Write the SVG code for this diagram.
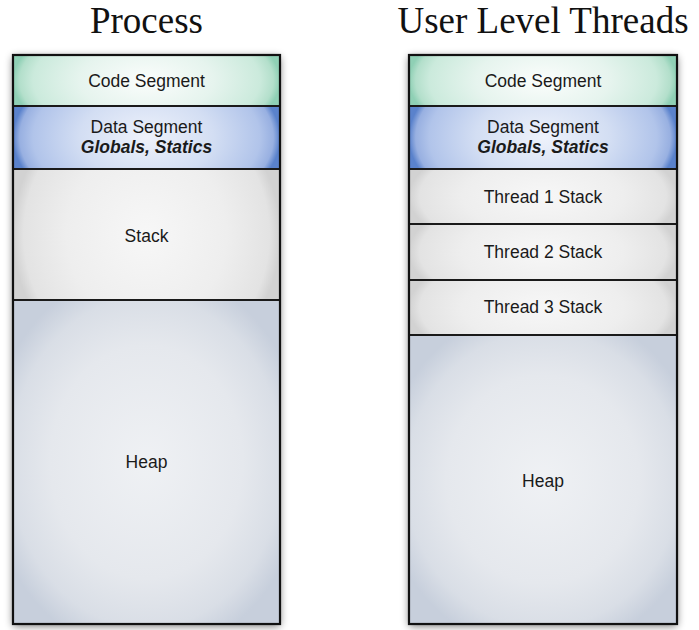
<svg xmlns="http://www.w3.org/2000/svg" width="699" height="630" viewBox="0 0 699 630">
  <style>
    .title { font-family: "Liberation Serif", "Times New Roman", serif; font-size: 37px; fill: #111; text-anchor: middle; }
    .lbl { font-family: "Liberation Sans", Arial, Helvetica, sans-serif; font-size: 17.5px; fill: #1a1a1a; text-anchor: middle; }
    .em { font-weight: bold; font-style: italic; }
    .frame { fill: none; stroke: #111; stroke-width: 2.2; }
    .sep { stroke: #1a1a1a; stroke-width: 1.8; }
    .code { fill: url(#gCode); }
    .data { fill: url(#gData); }
    .stack { fill: url(#gStack); }
    .heap { fill: url(#gHeap); }
  </style>
  <defs>
    <!-- segment fills: light centre fading to a tinted rim -->
    <radialGradient id="gCode" cx="0.5" cy="0.5" r="0.5" gradientTransform="translate(0.5 0.5) scale(1 2.6) translate(-0.5 -0.5)">
      <stop offset="0" stop-color="#fbfdfc"/>
      <stop offset="0.5" stop-color="#e6f4ee"/>
      <stop offset="0.85" stop-color="#cbeadc"/>
      <stop offset="0.95" stop-color="#b3dfcb"/>
      <stop offset="1" stop-color="#8fd0b5"/>
    </radialGradient>
    <radialGradient id="gData" cx="0.5" cy="0.5" r="0.5" gradientTransform="translate(0.5 0.5) scale(1 2.6) translate(-0.5 -0.5)">
      <stop offset="0" stop-color="#eef2fb"/>
      <stop offset="0.5" stop-color="#d3def3"/>
      <stop offset="0.85" stop-color="#b1c4ea"/>
      <stop offset="0.95" stop-color="#98b0e1"/>
      <stop offset="1" stop-color="#5a82cc"/>
    </radialGradient>
    <radialGradient id="gStack" cx="0.5" cy="0.5" r="0.5" gradientTransform="translate(0.5 0.5) scale(1 2.2) translate(-0.5 -0.5)">
      <stop offset="0" stop-color="#f7f7f7"/>
      <stop offset="0.6" stop-color="#eeeeee"/>
      <stop offset="0.92" stop-color="#e3e3e3"/>
      <stop offset="1" stop-color="#d2d2d2"/>
    </radialGradient>
    <radialGradient id="gHeap" cx="0.5" cy="0.5" r="0.6">
      <stop offset="0" stop-color="#eff1f4"/>
      <stop offset="0.6" stop-color="#e5e8ed"/>
      <stop offset="0.85" stop-color="#d9dee6"/>
      <stop offset="1" stop-color="#c7cfdc"/>
    </radialGradient>
    <filter id="shadow" x="-10%" y="-10%" width="120%" height="120%">
      <feGaussianBlur stdDeviation="4.5"/>
    </filter>
  </defs>

  <!-- Titles -->
  <text class="title" x="146.5" y="33">Process</text>
  <text class="title" x="543" y="33">User Level Threads</text>

  <!-- Process memory layout -->
  <g id="process">
    <rect x="13" y="57" width="267" height="569" fill="#000" opacity="0.55" filter="url(#shadow)"/>
    <g id="p-code">
      <rect class="code" x="13" y="55" width="267" height="51"/>
      <text class="lbl" x="146.5" y="87">Code Segment</text>
    </g>
    <g id="p-data">
      <rect class="data" x="13" y="106" width="267" height="63"/>
      <text class="lbl" x="146.5" y="133">Data Segment</text>
      <text class="lbl em" x="146.5" y="153">Globals, Statics</text>
    </g>
    <g id="p-stack">
      <rect class="stack" x="13" y="169" width="267" height="131"/>
      <text class="lbl" x="146.5" y="242">Stack</text>
    </g>
    <g id="p-heap">
      <rect class="heap" x="13" y="300" width="267" height="324"/>
      <text class="lbl" x="146.5" y="468">Heap</text>
    </g>
    <line class="sep" x1="13" y1="106" x2="280" y2="106"/>
    <line class="sep" x1="13" y1="169" x2="280" y2="169"/>
    <line class="sep" x1="13" y1="300" x2="280" y2="300" stroke-width="2.4"/>
    <rect class="frame" x="13" y="55" width="267" height="569"/>
  </g>

  <!-- User level threads memory layout -->
  <g id="threads">
    <rect x="409" y="57" width="268" height="569" fill="#000" opacity="0.55" filter="url(#shadow)"/>
    <g id="t-code">
      <rect class="code" x="409" y="55" width="268" height="51"/>
      <text class="lbl" x="543" y="87">Code Segment</text>
    </g>
    <g id="t-data">
      <rect class="data" x="409" y="106" width="268" height="63"/>
      <text class="lbl" x="543" y="133">Data Segment</text>
      <text class="lbl em" x="543" y="153">Globals, Statics</text>
    </g>
    <g id="t-stack1">
      <rect class="stack" x="409" y="169" width="268" height="55"/>
      <text class="lbl" x="543" y="203">Thread 1 Stack</text>
    </g>
    <g id="t-stack2">
      <rect class="stack" x="409" y="224" width="268" height="56"/>
      <text class="lbl" x="543" y="258">Thread 2 Stack</text>
    </g>
    <g id="t-stack3">
      <rect class="stack" x="409" y="280" width="268" height="55"/>
      <text class="lbl" x="543" y="313">Thread 3 Stack</text>
    </g>
    <g id="t-heap">
      <rect class="heap" x="409" y="335" width="268" height="289"/>
      <text class="lbl" x="543" y="487">Heap</text>
    </g>
    <line class="sep" x1="409" y1="106" x2="677" y2="106"/>
    <line class="sep" x1="409" y1="169" x2="677" y2="169"/>
    <line class="sep" x1="409" y1="224" x2="677" y2="224"/>
    <line class="sep" x1="409" y1="280" x2="677" y2="280"/>
    <line class="sep" x1="409" y1="335" x2="677" y2="335"/>
    <rect class="frame" x="409" y="55" width="268" height="569"/>
  </g>
</svg>
